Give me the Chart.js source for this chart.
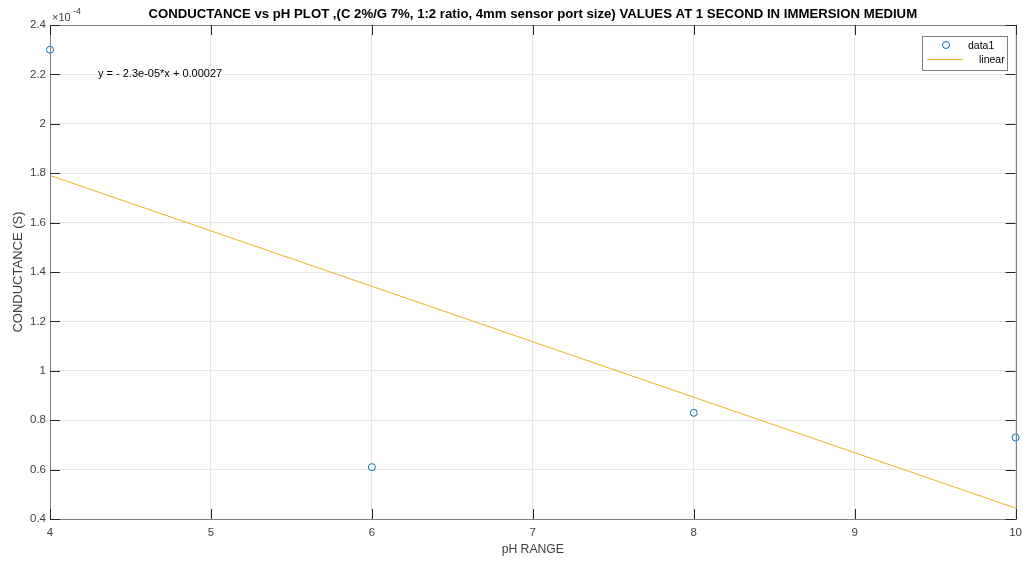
<!DOCTYPE html>
<html><head><meta charset="utf-8">
<script src="https://cdn.jsdelivr.net/npm/chart.js@4/dist/chart.umd.min.js"></script>
<style>html,body{margin:0;padding:0;background:#fff;}canvas{display:block;}</style>
</head><body>
<canvas id="c" width="1029" height="561"></canvas>
<script>
// Data (conductance in units of 1e-4 S)
const phValues = [4, 6, 8, 10];
const conductance = [2.30, 0.61, 0.83, 0.73];
const fitX = [4, 10];
const fitY = [1.791, 0.444];
const xTicks = [4, 5, 6, 7, 8, 9, 10];
const yTicks = [0.4, 0.6, 0.8, 1.0, 1.2, 1.4, 1.6, 1.8, 2.0, 2.2, 2.4];
const titleText = 'CONDUCTANCE vs pH PLOT ,(C 2%/G 7%, 1:2 ratio, 4mm sensor port size) VALUES AT 1 SECOND IN IMMERSION MEDIUM';
const equationText = 'y = - 2.3e-05*x + 0.00027';
const FONT = '"Liberation Sans", Arial, Helvetica, sans-serif';

const decor = {
  id: 'decor',
  afterDraw(chart) {
    const ctx = chart.ctx, a = chart.chartArea;
    const xs = chart.scales.x, ys = chart.scales.y;
    ctx.save();
    // box
    ctx.strokeStyle = '#808080'; ctx.lineWidth = 1;
    ctx.strokeRect(Math.round(a.left) + 0.5, Math.round(a.top) + 0.5, Math.round(a.right - a.left), Math.round(a.bottom - a.top));
    // inner ticks
    ctx.strokeStyle = '#262626';
    ctx.beginPath();
    xTicks.forEach(v => {
      const px = Math.round(xs.getPixelForValue(v)) + 0.5;
      ctx.moveTo(px, a.bottom); ctx.lineTo(px, a.bottom - 10);
      ctx.moveTo(px, a.top); ctx.lineTo(px, a.top + 10);
    });
    yTicks.forEach(v => {
      const py = Math.round(ys.getPixelForValue(v)) + 0.5;
      ctx.moveTo(a.left, py); ctx.lineTo(a.left + 10, py);
      ctx.moveTo(a.right, py); ctx.lineTo(a.right - 10, py);
    });
    ctx.stroke();
    // title
    ctx.fillStyle = '#000';
    ctx.font = 'bold 13.2px ' + FONT;
    ctx.textAlign = 'center'; ctx.textBaseline = 'middle';
    ctx.fillText(titleText, (a.left + a.right) / 2, 14);
    // exponent
    ctx.fillStyle = '#404040';
    ctx.font = '11px ' + FONT;
    ctx.textAlign = 'left';
    ctx.fillText('\u00d710', a.left + 2, 18);
    ctx.font = '9px ' + FONT;
    ctx.fillText('-4', a.left + 23, 12);
    // equation
    ctx.fillStyle = '#000';
    ctx.font = '11px ' + FONT;
    ctx.fillText(equationText, 98, 74);
    // legend
    const lx = 922, ly = 36, lw = 85, lh = 34;
    ctx.fillStyle = '#fff';
    ctx.fillRect(lx, ly, lw, lh);
    ctx.strokeStyle = '#808080';
    ctx.strokeRect(lx + 0.5, ly + 0.5, lw, lh);
    ctx.strokeStyle = '#0072BD'; ctx.lineWidth = 1;
    ctx.beginPath(); ctx.arc(946, 45, 3.5, 0, Math.PI * 2); ctx.stroke();
    ctx.strokeStyle = '#EDB120'; ctx.lineWidth = 1;
    ctx.beginPath(); ctx.moveTo(927, 59.5); ctx.lineTo(963, 59.5); ctx.stroke();
    ctx.fillStyle = '#000';
    ctx.font = '10.5px ' + FONT;
    ctx.textAlign = 'left';
    ctx.fillText('data1', 968, 46);
    ctx.fillText('linear', 979, 60);
    ctx.restore();
  }
};

new Chart(document.getElementById('c'), {
  type: 'scatter',
  data: {
    datasets: [
      { label: 'data1', data: phValues.map((x, i) => ({x, y: conductance[i]})), clip: false,
        pointStyle: 'circle', pointRadius: 3.5, pointBorderColor: '#0072BD', pointBackgroundColor: 'rgba(0,0,0,0)', pointBorderWidth: 1, showLine: false },
      { label: 'linear', data: fitX.map((x, i) => ({x, y: fitY[i]})),
        showLine: true, borderColor: '#EDB120', borderWidth: 1, pointRadius: 0, fill: false }
    ]
  },
  options: {
    responsive: false, animation: false,
    layout: { padding: { top: 25, right: 11, left: 0, bottom: 0 } },
    plugins: { legend: { display: false }, tooltip: { enabled: false }, title: { display: false } },
    scales: {
      x: { type: 'linear', min: 4, max: 10,
        afterBuildTicks: s => { s.ticks = xTicks.map(v => ({value: v})); },
        afterFit: s => { s.height = 42; },
        grid: { color: '#e6e6e6', drawTicks: false },
        border: { display: false },
        ticks: { padding: 7, color: '#404040', font: { size: 11.5, family: FONT }, maxRotation: 0, callback: v => String(v) },
        title: { display: true, text: 'pH RANGE', color: '#404040', font: { size: 12.2, family: FONT }, padding: { top: 4, bottom: 4 } }
      },
      y: { type: 'linear', min: 0.4, max: 2.4,
        afterBuildTicks: s => { s.ticks = yTicks.map(v => ({value: v})); },
        afterFit: s => { s.width = 50; },
        grid: { color: '#e6e6e6', drawTicks: false },
        border: { display: false },
        ticks: { padding: 4, color: '#404040', font: { size: 11.5, family: FONT }, callback: v => String(Number(v.toFixed(1))) },
        title: { display: true, text: 'CONDUCTANCE (S)', color: '#404040', font: { size: 13, family: FONT }, padding: { top: 11, bottom: 0 } }
      }
    }
  },
  plugins: [decor]
});
</script>
</body></html>
